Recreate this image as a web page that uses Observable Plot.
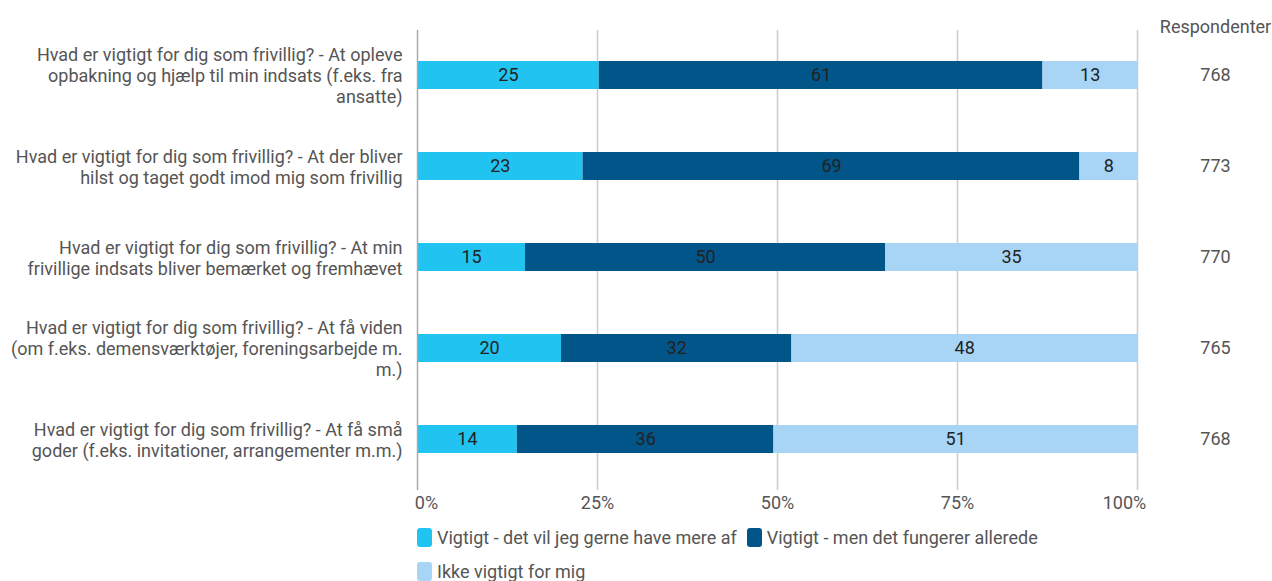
<!DOCTYPE html>
<html>
<head>
<meta charset="utf-8">
<script src="https://cdn.jsdelivr.net/npm/d3@7"></script>
<script src="https://cdn.jsdelivr.net/npm/@observablehq/plot@0.6"></script>
<style>
  body { margin: 0; background: #fff; font-family: Roboto, "Noto Sans", sans-serif; }
  #chart svg { display: block; }
  .legend { position: relative; margin-left: 417px; width: 780px; font-size: 18px; color: #555; }
  .legend .item { display: inline-flex; align-items: center; height: 34px; margin-right: 10px; }
  .legend .sw { width: 15px; height: 19px; border-radius: 3px; margin-right: 5px; }
</style>
</head>
<body>
<div id="chart"></div>
<div class="legend" id="legend"></div>
<script>
const categories = [
  "Hvad er vigtigt for dig som frivillig? - At opleve\nopbakning og hjælp til min indsats (f.eks. fra\nansatte)",
  "Hvad er vigtigt for dig som frivillig? - At der bliver\nhilst og taget godt imod mig som frivillig",
  "Hvad er vigtigt for dig som frivillig? - At min\nfrivillige indsats bliver bemærket og fremhævet",
  "Hvad er vigtigt for dig som frivillig? - At få viden\n(om f.eks. demensværktøjer, foreningsarbejde m.\nm.)",
  "Hvad er vigtigt for dig som frivillig? - At få små\ngoder (f.eks. invitationer, arrangementer m.m.)"
];
const seriesNames = [
  "Vigtigt - det vil jeg gerne have mere af",
  "Vigtigt - men det fungerer allerede",
  "Ikke vigtigt for mig"
];
const mereAf = [25, 23, 15, 20, 14];
const fungerer = [61, 69, 50, 32, 36];
const ikkeVigtigt = [13, 8, 35, 48, 51];
const respondenter = [768, 773, 770, 765, 768];
const colors = ["#21c3f1", "#025588", "#a8d5f6"];
const xTicks = [0, 0.25, 0.5, 0.75, 1];

const series = [mereAf, fungerer, ikkeVigtigt];
const data = [];
categories.forEach((c, i) => {
  series.forEach((s, j) => data.push({category: c, series: seriesNames[j], value: s[i]}));
});
const resp = categories.map((c, i) => ({category: c, n: respondenter[i]}));

const stack = {x: "value", y: "category", z: "series", order: seriesNames, offset: "normalize"};
const fmt = d => Math.round(d * 100) + "%";
const FS = 18;

const plot = Plot.plot({
  width: 1272,
  height: 520,
  marginLeft: 417,
  marginRight: 135,
  marginTop: 30,
  marginBottom: 35,
  style: {fontFamily: "Roboto, sans-serif", fontSize: FS + "px", color: "#555", background: "#fff"},
  x: {domain: [0, 1], label: null},
  y: {domain: categories, paddingInner: 0.69, paddingOuter: 0.345, label: null},
  color: {domain: seriesNames, range: colors},
  marks: [
    Plot.ruleX(xTicks.filter(d => d > 0), {stroke: "#cccccc", strokeWidth: 1.5, insetBottom: -5}),
    Plot.barX(data, Plot.stackX({...stack, fill: "series"})),
    Plot.ruleX([0], {stroke: "#aaaaaa", strokeWidth: 1.5, insetBottom: -5}),
    Plot.text(data, Plot.stackX({...stack, text: d => String(d.value), fill: "#222", fontSize: FS})),
    Plot.axisX(xTicks.slice(1, 4), {tickFormat: fmt, tickSize: 0, tickPadding: 11, fontSize: FS, fill: "#555", label: null}),
    Plot.axisX([0], {tickFormat: fmt, tickSize: 0, tickPadding: 11, fontSize: FS, fill: "#555", label: null, dx: 9}),
    Plot.axisX([1], {tickFormat: fmt, tickSize: 0, tickPadding: 11, fontSize: FS, fill: "#555", label: null, dx: -13}),
    Plot.axisY({tickSize: 0, tickPadding: 15, fontSize: FS, fill: "#555", lineHeight: 1.17, label: null}),
    Plot.text(resp, {x: () => 1, y: "category", text: d => String(d.n), dx: 78, fill: "#555", fontSize: FS}),
    Plot.text(["Respondenter"], {x: () => 1, frameAnchor: "top", text: d => d, dx: 78, dy: -10, fill: "#555", fontSize: FS})
  ]
});
document.getElementById("chart").appendChild(plot);

const legend = document.getElementById("legend");
seriesNames.forEach((name, i) => {
  const item = document.createElement("span");
  item.className = "item";
  const sw = document.createElement("span");
  sw.className = "sw";
  sw.style.background = colors[i];
  item.appendChild(sw);
  item.appendChild(document.createTextNode(name));
  legend.appendChild(item);
  if (i === 1) legend.appendChild(document.createElement("br"));
});
</script>
</body>
</html>
